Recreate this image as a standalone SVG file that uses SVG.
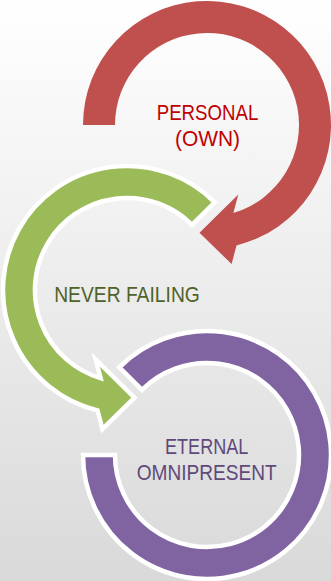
<svg xmlns="http://www.w3.org/2000/svg" width="331" height="581" viewBox="0 0 331 581">
  <defs>
    <linearGradient id="bg" x1="0" y1="0" x2="0" y2="1">
      <stop offset="0" stop-color="#ffffff"/>
      <stop offset="1" stop-color="#d9d9d9"/>
    </linearGradient>
  </defs>
  <style>
    .ring { stroke-linejoin: miter; stroke-miterlimit: 6; }
    .outlined { stroke: #ffffff; stroke-width: 4.5; }
    .lbl { font-family: "Liberation Sans", Arial, sans-serif; font-size: 22px; text-anchor: middle; }
  </style>
  <rect x="0" y="0" width="331" height="581" fill="url(#bg)"/>

  <g id="node-personal">
    <path class="ring" fill="#C0504D" d="M83,125 A124,124 0 1 1 236.5,245.4 L231.6,264.1 L199.5,232.7 L238.3,194.5 L233.4,213.1 A92,92 0 1 0 115,125 Z"/>
    <text class="lbl" fill="#C00000" x="207.5" y="120" textLength="101.6" lengthAdjust="spacingAndGlyphs">PERSONAL</text>
    <text class="lbl" fill="#C00000" x="207.5" y="145.5" textLength="65" lengthAdjust="spacingAndGlyphs">(OWN)</text>
  </g>

  <g id="node-never-failing">
    <path class="ring outlined" fill="#9BBB59" d="M214.7,202.3 A124,124 0 1 0 97.5,410.4 L102.4,429.1 L134.5,397.7 L95.7,359.5 L100.6,378.1 A92,92 0 1 1 192.05,224.95 Z"/>
    <text class="lbl" fill="#4F6228" x="127" y="301.5" textLength="145.7" lengthAdjust="spacingAndGlyphs">NEVER FAILING</text>
  </g>

  <g id="node-eternal">
    <path class="ring outlined" fill="#8064A2" d="M83,455 A124,124 0 1 0 119.32,367.32 L141.95,389.95 A92,92 0 1 1 115,455 Z"/>
    <text class="lbl" fill="#5F497A" x="206.7" y="454.3" textLength="83.3" lengthAdjust="spacingAndGlyphs">ETERNAL</text>
    <text class="lbl" fill="#5F497A" x="206.7" y="480" textLength="140" lengthAdjust="spacingAndGlyphs">OMNIPRESENT</text>
  </g>
</svg>
